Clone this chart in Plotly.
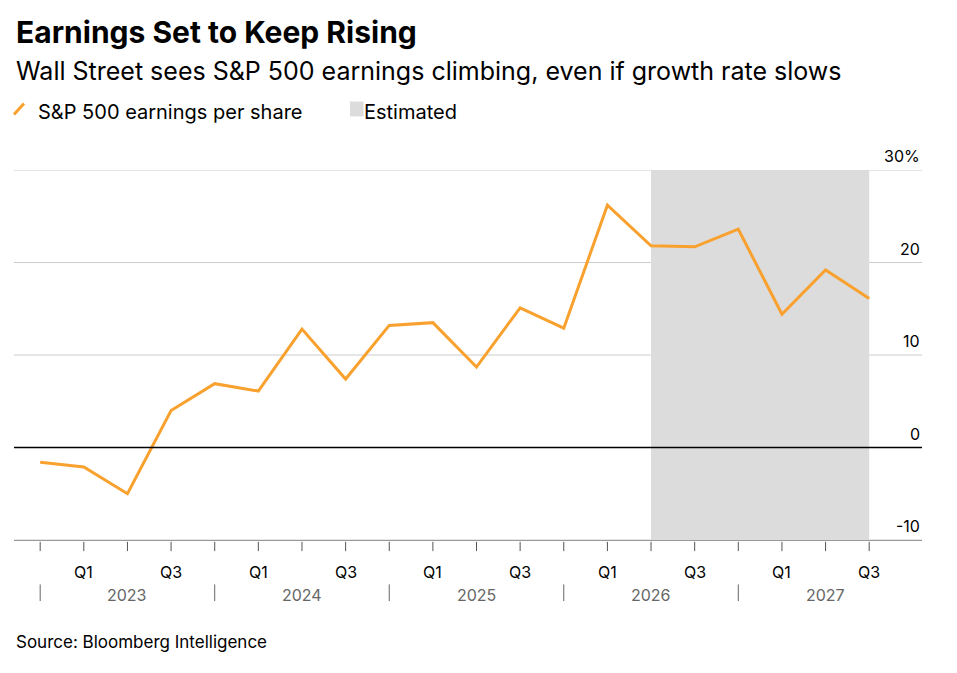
import plotly.graph_objects as go

quarters = ["Q4 2022","Q1 2023","Q2 2023","Q3 2023","Q4 2023","Q1 2024","Q2 2024","Q3 2024","Q4 2024",
            "Q1 2025","Q2 2025","Q3 2025","Q4 2025","Q1 2026","Q2 2026","Q3 2026","Q4 2026","Q1 2027","Q2 2027","Q3 2027"]
eps_growth = [-1.6, -2.1, -5.0, 4.0, 6.9, 6.1, 12.8, 7.4, 13.2, 13.5, 8.7, 15.1, 12.9, 26.2, 21.8, 21.7, 23.6, 14.4, 19.2, 16.1]
y_ticks = [30, 20, 10, 0, -10]
q_labels = {1: "Q1", 3: "Q3", 5: "Q1", 7: "Q3", 9: "Q1", 11: "Q3", 13: "Q1", 15: "Q3", 17: "Q1", 19: "Q3"}
years = ["2023", "2024", "2025", "2026", "2027"]
est_start, est_end = 14, 19

x = list(range(len(quarters)))
FONT = "Inter, Liberation Sans, sans-serif"
fig = go.Figure()
fig.add_trace(go.Scatter(x=x, y=eps_growth, mode="lines", line=dict(color="#f9a12e", width=3), showlegend=False))

shapes = [dict(type="rect", xref="x", yref="y", x0=est_start, x1=est_end, y0=-10, y1=30,
               fillcolor="#dcdcdc", line_width=0, layer="below")]
for t in y_ticks:
    shapes.append(dict(type="line", xref="paper", yref="y", x0=0, x1=1, y0=t, y1=t,
                       line=dict(color="#000000" if t == 0 else "#cccccc", width=1.3 if t == 0 else 1),
                       layer="below" if t != 0 else "above"))
for i in x:
    shapes.append(dict(type="line", xref="x", yref="paper", x0=i, x1=i, y0=-0.005, y1=-0.03,
                       line=dict(color="#555", width=1)))
annotations = []
for t in y_ticks:
    annotations.append(dict(xref="paper", yref="y", x=1.0, y=t, text=f"{t}%" if t == 30 else str(t),
                            showarrow=False, xanchor="right", yanchor="bottom", yshift=2,
                            font=dict(family=FONT, size=16, color="#000")))
for i, lab in q_labels.items():
    annotations.append(dict(xref="x", yref="paper", x=i, y=-0.055, text=lab, showarrow=False,
                            yanchor="top", font=dict(family=FONT, size=16, color="#000")))
for k, yr in enumerate(years):
    annotations.append(dict(xref="x", yref="paper", x=4 * k + 2, y=-0.115, text=yr, showarrow=False,
                            yanchor="top", font=dict(family=FONT, size=16, color="#666")))
    shapes.append(dict(type="line", xref="x", yref="paper", x0=4 * k, x1=4 * k, y0=-0.12, y1=-0.165,
                       line=dict(color="#666", width=1)))
annotations += [
    dict(xref="paper", yref="paper", x=0, y=1.0, xanchor="left", yanchor="bottom", showarrow=False,
         text="<b>Earnings Set to Keep Rising</b>", font=dict(family=FONT, size=30, color="#000"),
         yshift=118),
    dict(xref="paper", yref="paper", x=0, y=1.0, xanchor="left", yanchor="bottom", showarrow=False,
         text="Wall Street sees S&P 500 earnings climbing, even if growth rate slows",
         font=dict(family=FONT, size=25, color="#000"), yshift=82),
    dict(xref="paper", yref="paper", x=0, y=1.0, xanchor="left", yanchor="bottom", showarrow=False, xshift=22,
         text="S&P 500 earnings per share", font=dict(family=FONT, size=20, color="#000"), yshift=44),
    dict(xref="paper", yref="paper", x=0, y=1.0, xanchor="left", yanchor="bottom", showarrow=False, xshift=348,
         text="Estimated", font=dict(family=FONT, size=20, color="#000"), yshift=44),
    dict(xref="paper", yref="paper", x=0, y=0, xanchor="left", yanchor="top", showarrow=False,
         text="Source: Bloomberg Intelligence", font=dict(family=FONT, size=17, color="#000"), yshift=-90),
]
shapes.append(dict(type="line", xref="paper", yref="paper", x0=0.0, x1=0.011, y0=1.15, y1=1.18,
                   line=dict(color="#f9a12e", width=3)))
shapes.append(dict(type="rect", xref="paper", yref="paper", x0=0.37, x1=0.385, y0=1.145, y1=1.185,
                   fillcolor="#dcdcdc", line_width=0))

fig.update_layout(
    width=957, height=673, margin=dict(l=6, r=43, t=162, b=141),
    plot_bgcolor="white", paper_bgcolor="white",
    xaxis=dict(range=[-0.6, 20.21], showgrid=False, zeroline=False, showticklabels=False, showline=True,
               linecolor="#999", linewidth=1),
    yaxis=dict(range=[-10, 30], showgrid=False, zeroline=False, showticklabels=False),
    shapes=shapes, annotations=annotations,
)
fig.write_html("out.html")
